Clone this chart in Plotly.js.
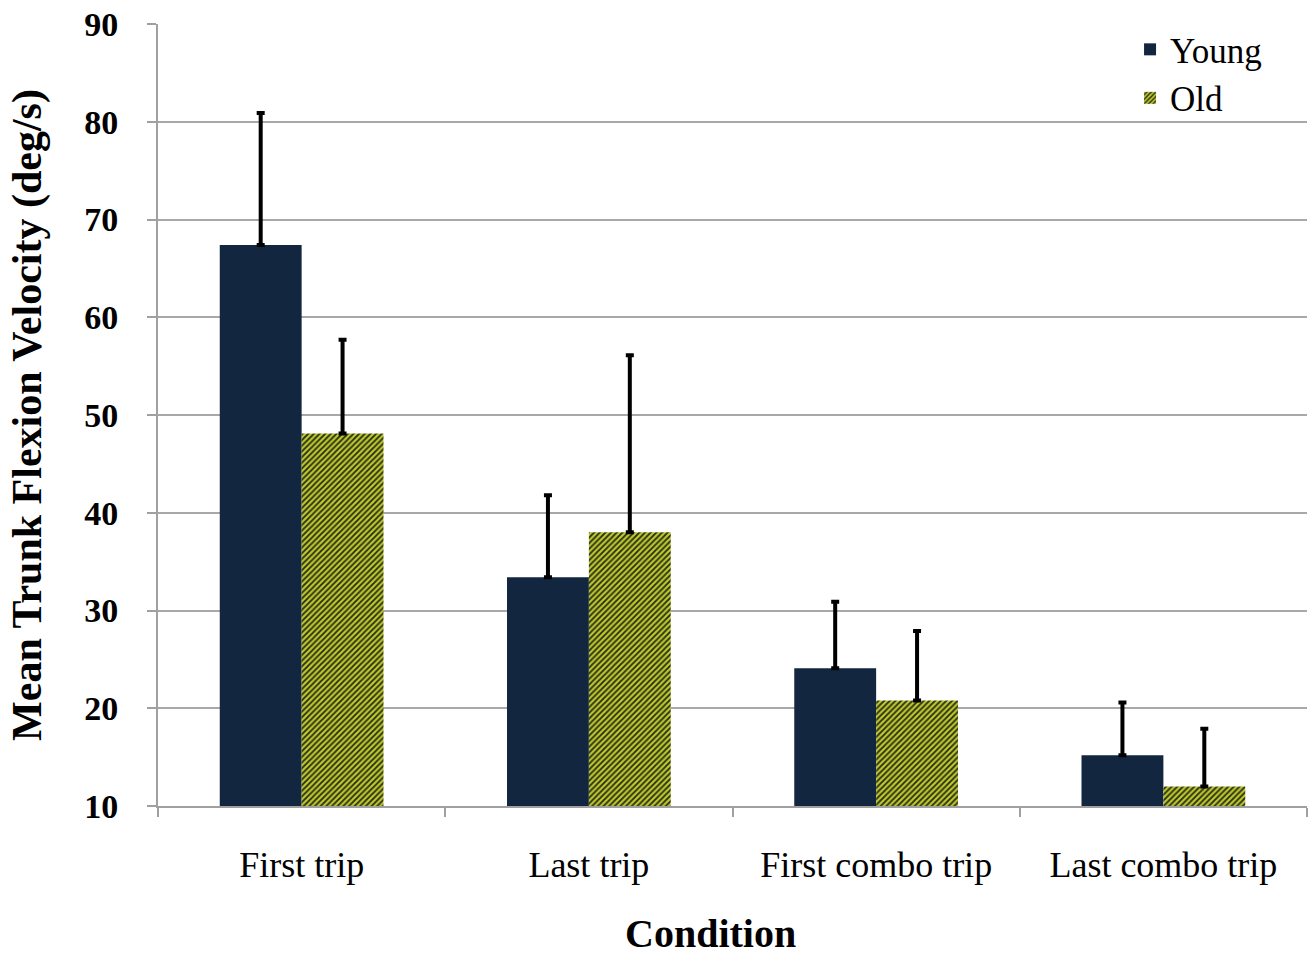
<!DOCTYPE html>
<html><head><meta charset="utf-8">
<script src="https://cdn.plot.ly/plotly-3.0.1.min.js"></script>
<style>body{margin:0;background:#fff}#chart{width:1310px;height:960px}</style>
</head><body><div id="chart"></div>
<script>
const categories = ["First trip", "Last trip", "First combo trip", "Last combo trip"];
const youngValues = [67.4, 33.4, 24.1, 15.2];
const youngErrors = [13.5, 8.4, 6.8, 5.4];
const oldValues = [48.1, 38.0, 20.8, 12.0];
const oldErrors = [9.6, 18.1, 7.1, 5.9];
const seriesNames = ["Young", "Old"];
const xTitle = "Condition";
const yTitle = "Mean Trunk Flexion Velocity (deg/s)";

const errStyle = (arr) => ({type: 'data', symmetric: false, array: arr, arrayminus: arr.map(() => 0), color: '#000', thickness: 4, width: 4});

const traces = [
  {type: 'bar', name: seriesNames[0], x: categories, y: youngValues,
   marker: {color: '#12263f', line: {width: 0}}, error_y: errStyle(youngErrors)},
  {type: 'bar', name: seriesNames[1], x: categories, y: oldValues,
   marker: {color: '#b8c42a', line: {width: 0},
     pattern: {shape: '/', fgcolor: '#262a18', bgcolor: '#bcc82c', size: 4, solidity: 0.45}},
   error_y: errStyle(oldErrors)}
];

const layout = {
  width: 1310, height: 960,
  margin: {l: 158, r: 3, t: 24, b: 154},
  paper_bgcolor: '#fff', plot_bgcolor: '#fff',
  barmode: 'group', bargap: 0.43, bargroupgap: 0,
  font: {family: 'Liberation Serif, Times New Roman, serif', color: '#000'},
  showlegend: true,
  legend: {x: 0.846, y: 1.005, xanchor: 'left', yanchor: 'top', font: {size: 35, family: 'Liberation Serif'}, bgcolor: 'rgba(0,0,0,0)', itemwidth: 30, tracegroupgap: 0},
  annotations: [{
    text: '<b>' + xTitle + '</b>', xref: 'paper', yref: 'paper', x: 0.481, y: -0.163,
    xanchor: 'center', yanchor: 'middle', showarrow: false,
    font: {size: 40, family: 'Liberation Serif', color: '#000'}
  }],
  xaxis: {
    type: 'category', tickson: 'boundaries', ticks: 'outside', ticklen: 9, tickwidth: 1.5, tickcolor: '#a0a0a0',
    showline: true, linecolor: '#a0a0a0', linewidth: 2, showgrid: false,
    tickfont: {size: 36, family: 'Liberation Serif'}, ticklabelstandoff: 26
  },
  yaxis: {
    range: [10, 90], dtick: 10, tick0: 10, ticks: 'outside', ticklen: 9, tickwidth: 1.5, tickcolor: '#a0a0a0',
    showline: true, linecolor: '#a0a0a0', linewidth: 2,
    showgrid: true, gridcolor: '#a8a8a8', gridwidth: 2, zeroline: false,
    tickfont: {size: 34, family: 'Liberation Serif', weight: 'bold'}, ticklabelstandoff: 22,
    tickformat: 'd',
    title: {text: '<b>' + yTitle + '</b>', font: {size: 42, family: 'Liberation Serif'}, standoff: 30}
  }
};

Plotly.newPlot('chart', traces, layout, {displayModeBar: false});
</script></body></html>
